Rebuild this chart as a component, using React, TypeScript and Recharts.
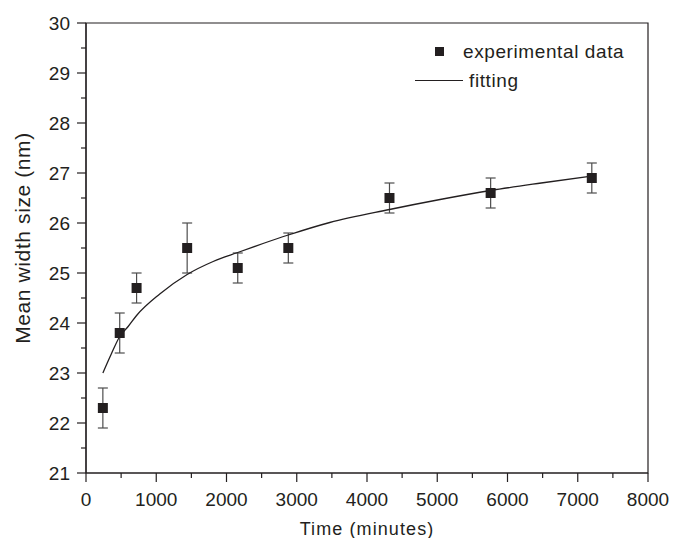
import React from 'react';
import {
  ComposedChart,
  XAxis,
  YAxis,
  Scatter,
  Line,
  ErrorBar,
  Legend,
  ReferenceArea,
} from 'recharts';

const timeMinutes = [240, 480, 720, 1440, 2160, 2880, 4320, 5760, 7200];
const meanWidth = [22.3, 23.8, 24.7, 25.5, 25.1, 25.5, 26.5, 26.6, 26.9];
const widthError = [0.4, 0.4, 0.3, 0.5, 0.3, 0.3, 0.3, 0.3, 0.3];

const fitTime = [240, 360, 480, 600, 720, 1050, 1440, 1810, 2160, 2520, 2880, 3470, 4320, 5040, 5760, 6480, 7200];
const fitWidth = [23.0, 23.38, 23.73, 23.93, 24.15, 24.58, 24.97, 25.23, 25.41, 25.59, 25.76, 26.01, 26.27, 26.47, 26.65, 26.8, 26.94];

const xTicks = [0, 500, 1000, 1500, 2000, 2500, 3000, 3500, 4000, 4500, 5000, 5500, 6000, 6500, 7000, 7500, 8000];
const xLabeled = [0, 1000, 2000, 3000, 4000, 5000, 6000, 7000, 8000];
const yTicks = [21, 21.5, 22, 22.5, 23, 23.5, 24, 24.5, 25, 25.5, 26, 26.5, 27, 27.5, 28, 28.5, 29, 29.5, 30];
const yLabeled = [21, 22, 23, 24, 25, 26, 27, 28, 29, 30];

const seriesNames = ['experimental data', 'fitting'];
const xTitle = 'Time (minutes)';
const yTitle = 'Mean width size (nm)';

const expData = timeMinutes.map((t, i) => ({ t, w: meanWidth[i], err: widthError[i] }));
const fitData = fitTime.map((t, i) => ({ t, w: fitWidth[i] }));

const INK = '#231f20';
const FONT = '"Liberation Sans", Arial, Helvetica, sans-serif';
const TICK_SIZE = 9;
const X_MARGIN = 11;
const Y_MARGIN = 7;

const XTick = (props: any) => {
  const { x, y, payload } = props;
  const major = xLabeled.includes(payload.value);
  const axisY = y - TICK_SIZE - X_MARGIN;
  return (
    <g>
      <line x1={x} x2={x} y1={axisY} y2={axisY + (major ? 9 : 5)} stroke={INK} strokeWidth={1.2} />
      {major && (
        <text x={x} y={y} dy="0.71em" textAnchor="middle" fontSize={19} fontFamily={FONT} fill={INK}>
          {payload.value}
        </text>
      )}
    </g>
  );
};

const YTick = (props: any) => {
  const { x, y, payload } = props;
  const major = yLabeled.includes(payload.value);
  const axisX = x + TICK_SIZE + Y_MARGIN;
  return (
    <g>
      <line x1={axisX - (major ? 9 : 5)} x2={axisX} y1={y} y2={y} stroke={INK} strokeWidth={1.2} />
      {major && (
        <text x={x} y={y} dy="0.355em" textAnchor="end" fontSize={19} fontFamily={FONT} fill={INK}>
          {payload.value}
        </text>
      )}
    </g>
  );
};

const Square = (props: any) => {
  const { cx, cy } = props;
  if (cx == null || cy == null) return null;
  return <rect x={cx - 5} y={cy - 5} width={10} height={10} fill={INK} />;
};

const LegendBox = () => (
  <div style={{ fontFamily: FONT, fontSize: 19, color: INK, letterSpacing: '0.6px', lineHeight: '29px' }}>
    <div style={{ display: 'flex', alignItems: 'center', height: 29 }}>
      <svg width={48} height={29} style={{ display: 'block' }}>
        <rect x={20} y={10} width={9} height={9} fill={INK} />
      </svg>
      <span>{seriesNames[0]}</span>
    </div>
    <div style={{ display: 'flex', alignItems: 'center', height: 29 }}>
      <svg width={54} height={29} style={{ display: 'block' }}>
        <line x1={0} x2={48} y1={14.5} y2={14.5} stroke={INK} strokeWidth={1.2} />
      </svg>
      <span>{seriesNames[1]}</span>
    </div>
  </div>
);

const YTitle = (props: any) => {
  const vb = props.viewBox;
  const cy = vb.y + vb.height / 2 - 10;
  const x = 30;
  return (
    <text x={x} y={cy} transform={`rotate(-90, ${x}, ${cy})`} textAnchor="middle" fontSize={21} letterSpacing="0.6px" fontFamily={FONT} fill={INK}>
      {yTitle}
    </text>
  );
};

const XTitle = (props: any) => {
  const vb = props.viewBox;
  return (
    <text x={vb.x + vb.width / 2} y={535} textAnchor="middle" fontSize={18} letterSpacing="1.1px" fontFamily={FONT} fill={INK}>
      {xTitle}
    </text>
  );
};

export default function App() {
  return (
    <div style={{ position: 'absolute', left: 0, top: 0, background: '#fff' }}>
      <ComposedChart width={673} height={538} margin={{ top: 23, right: 25, bottom: 10, left: 10 }}>
        <XAxis
          dataKey="t"
          type="number"
          domain={[0, 8000]}
          ticks={xTicks}
          interval={0}
          allowDataOverflow
          height={55}
          tickSize={TICK_SIZE}
          tickMargin={X_MARGIN}
          tickLine={false}
          tick={<XTick />}
          axisLine={{ stroke: INK, strokeWidth: 1.2 }}
          label={<XTitle />}
        />
        <YAxis
          dataKey="w"
          type="number"
          domain={[21, 30]}
          ticks={yTicks}
          interval={0}
          allowDataOverflow
          width={76}
          tickSize={TICK_SIZE}
          tickMargin={Y_MARGIN}
          tickLine={false}
          tick={<YTick />}
          axisLine={{ stroke: INK, strokeWidth: 1.2 }}
          label={<YTitle />}
        />
        <ReferenceArea x1={0} x2={8000} y1={21} y2={30} fill="none" stroke={INK} strokeWidth={1.2} ifOverflow="visible" />
        <Scatter name={seriesNames[0]} data={expData} dataKey="w" shape={<Square />} isAnimationActive={false}>
          <ErrorBar dataKey="err" direction="y" width={5} stroke="#4d4d4d" strokeWidth={1.2} isAnimationActive={false} />
        </Scatter>
        <Line
          name={seriesNames[1]}
          data={fitData}
          dataKey="w"
          type="monotone"
          stroke={INK}
          strokeWidth={1.3}
          dot={false}
          activeDot={false}
          isAnimationActive={false}
        />
        <Legend
          layout="vertical"
          align="center"
          verticalAlign="middle"
          content={<LegendBox />}
          wrapperStyle={{ position: 'absolute', left: 415, top: 37, width: 240 }}
        />
      </ComposedChart>
    </div>
  );
}
